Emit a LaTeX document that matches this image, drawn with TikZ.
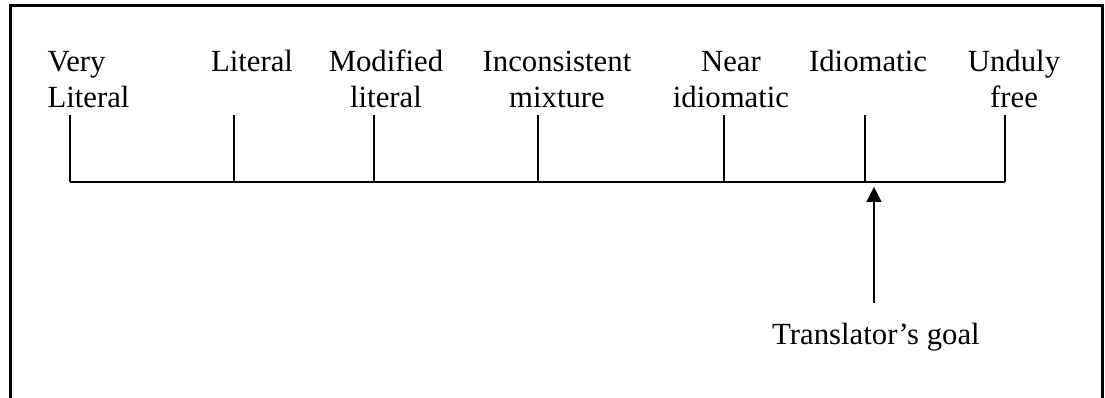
\documentclass[tikz,border=0pt]{standalone}
\usepackage{fontspec}
\setmainfont{Liberation Serif}
\usetikzlibrary{arrows.meta}

\begin{document}
\begin{tikzpicture}[x=0.4pt, y=-0.4pt, >={Triangle[length=6pt,width=6pt]},
  font=\fontsize{12.3}{14.4}\selectfont,
  lab/.style={anchor=base, inner sep=0pt, align=center},
  frame/.style={line width=1.2pt},
  tick/.style={line width=0.45pt},
  scaleline/.style={line width=1pt}]
\useasboundingbox (0,0) rectangle (1105,398);
\draw[frame] (10,398) -- (10,6) -- (1102,6) -- (1102,398);
% labels above the scale (base = last line)
\node[lab, align=left, anchor=base west] (VL) at (47,108) {Very\\Literal};
\node[lab] (L) at (252,72) {Literal};
\node[lab] (ML) at (386,108) {Modified\\literal};
\node[lab] (IM) at (557,108) {Inconsistent\\mixture};
\node[lab] (NI) at (731,108) {Near\\idiomatic};
\node[lab] (I) at (868,72) {Idiomatic};
\node[lab] (UF) at (1014,108) {Unduly\\free};
% the scale
\foreach \n/\x in {1/70,2/234,3/374,4/538,5/724,6/865,7/1005}{
  \coordinate (t\n) at (\x,115);
  \coordinate (b\n) at (\x,182);
  \draw[tick] (t\n) -- (b\n);}
\draw[scaleline] (b1) -- (b7);
% the goal
\coordinate (tip) at (874,187);
\node[lab] (goal) at (876,345) {Translator’s goal};
\draw[->, line width=0.55pt] ([yshift=8pt]goal.north -| tip) -- (tip);
\end{tikzpicture}
\end{document}
